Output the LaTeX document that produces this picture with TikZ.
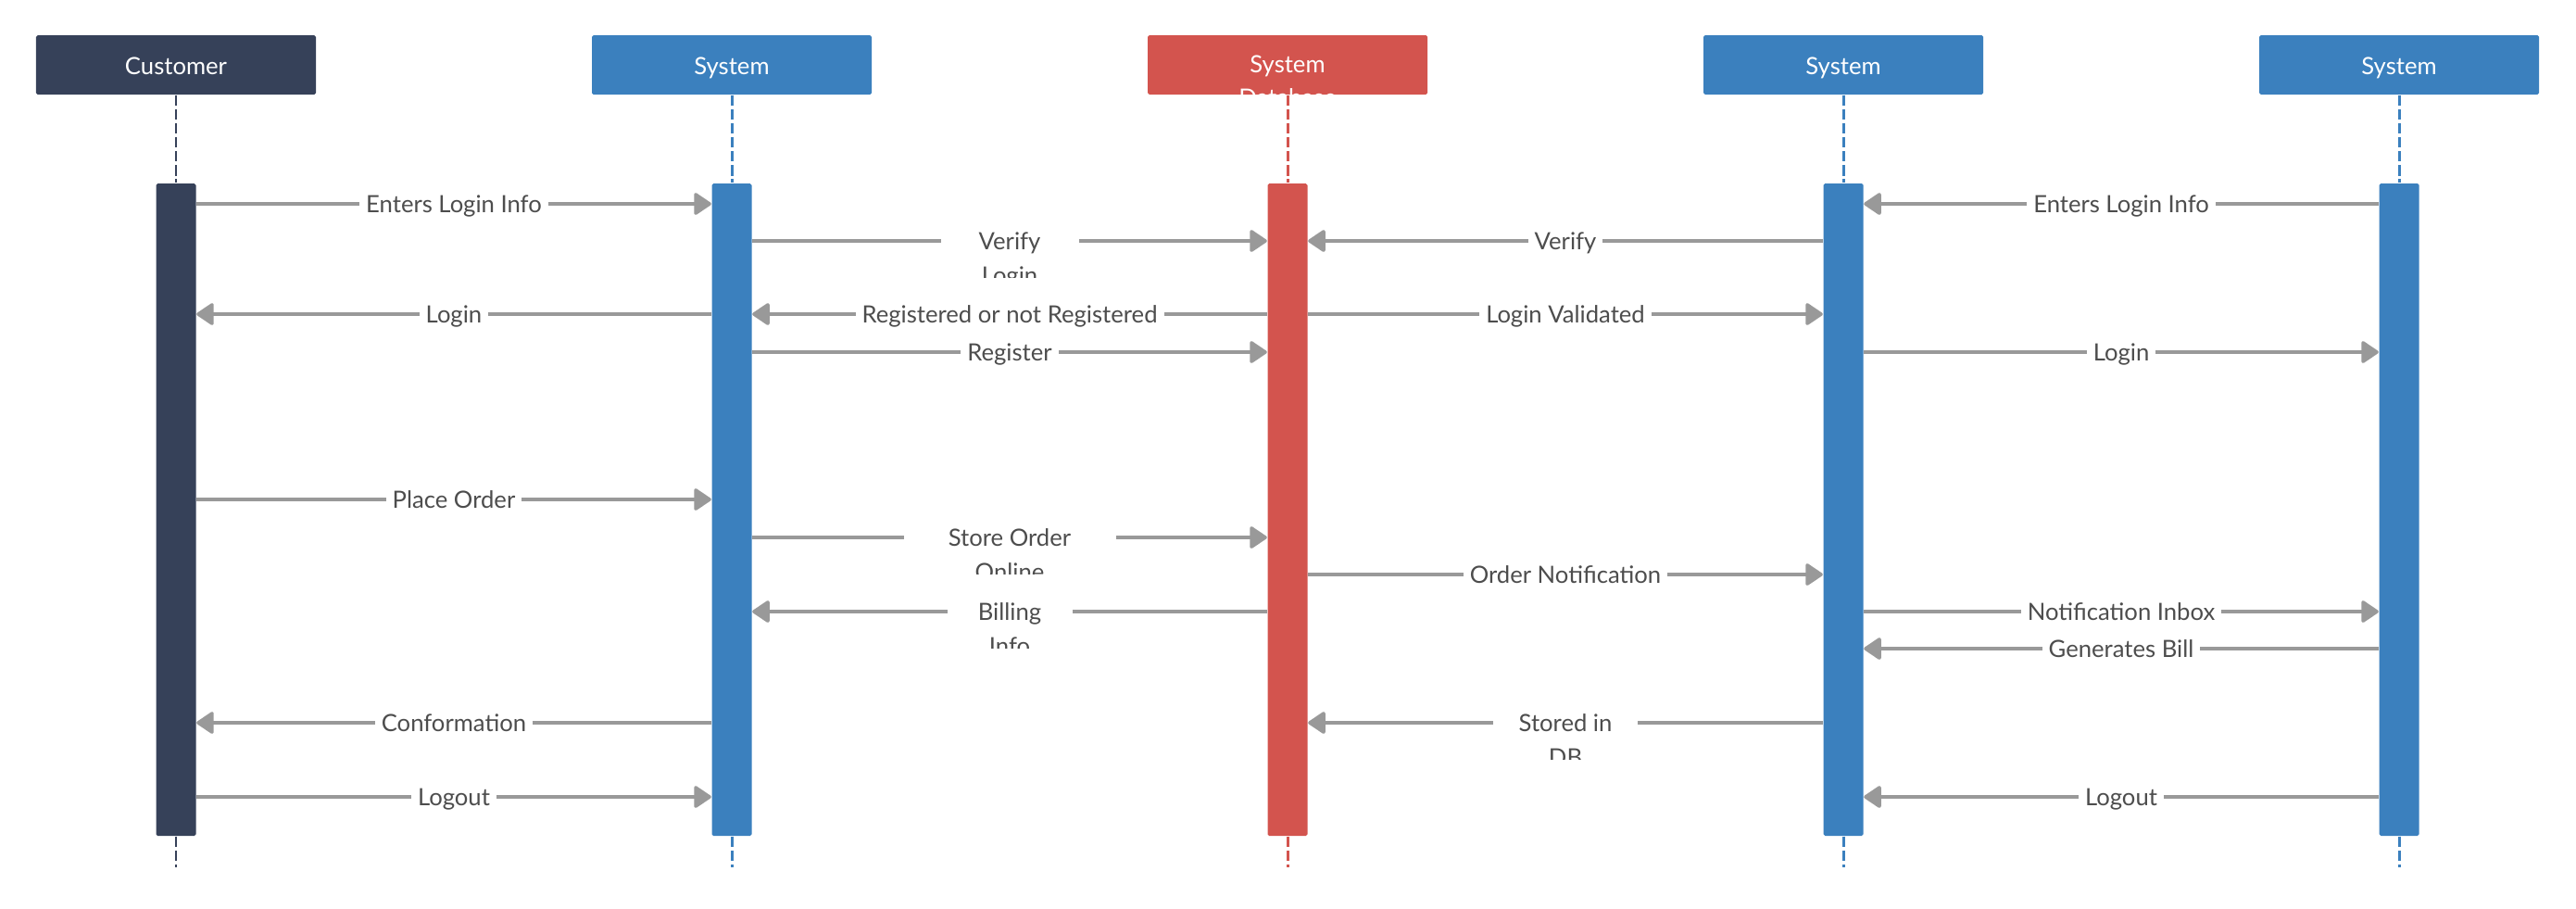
\documentclass[tikz,border=0pt]{standalone}
\usepackage{fontspec}
\setmainfont{Lato}
\usetikzlibrary{arrows.meta,positioning}
\definecolor{custnavy}{RGB}{54,65,89}
\definecolor{sysblue}{RGB}{59,128,190}
\definecolor{dbred}{RGB}{211,84,78}
\definecolor{msggray}{RGB}{153,153,153}
\definecolor{lbltext}{RGB}{77,77,77}
\begin{document}
\begin{tikzpicture}[
    head/.style={minimum width=3.02cm,minimum height=0.64cm,rounded corners=0.5pt,text=white,inner sep=0pt,text height=0.6em,text depth=0pt,font=\fontsize{7.3}{8}\selectfont},
    bar/.style={minimum width=0.43cm,minimum height=7.04cm,inner sep=0pt,rounded corners=0.5pt},
    life/.style={line width=0.85pt,dash pattern=on 3.2pt off 1.1pt},
    msg/.style={draw=msggray,line width=1pt,-{Triangle[length=2mm,width=2.6mm,round]}},
    lbl/.style={pos=.5,fill=white,text=lbltext,inner xsep=0.07cm,inner ysep=1.5pt,text height=0.55em,text depth=0pt,font=\fontsize{7.3}{8}\selectfont},
    more/.style={anchor=base,text=lbltext,inner sep=0pt,font=\fontsize{7.3}{8}\selectfont}]
    \useasboundingbox (0,0) rectangle (27.81,-9.80);
    \node[head,fill=custnavy] (cust) at (1.9,-0.70) {Customer};
    \node[head,fill=sysblue] (sys1) at (7.9,-0.70) {System};
    \node[head,fill=dbred] (db) at (13.9,-0.70) {};
    \node[head,fill=sysblue] (sys3) at (19.9,-0.70) {System};
    \node[head,fill=sysblue] (sys4) at (25.9,-0.70) {System};
    \node[head,fill=none] (dbname) at (13.9,-0.68) {System};
    \begin{scope}
        \clip (db.south west) rectangle (db.north east);
        \node[more,text=white,below=0.36 of dbname.base,anchor=base] (dbname2) {Database};
    \end{scope}
    \node[bar,fill=custnavy] (custbar) at (1.9,-5.50) {};
    \node[bar,fill=sysblue] (sys1bar) at (7.9,-5.50) {};
    \node[bar,fill=dbred] (dbbar) at (13.9,-5.50) {};
    \node[bar,fill=sysblue] (sys3bar) at (19.9,-5.50) {};
    \node[bar,fill=sysblue] (sys4bar) at (25.9,-5.50) {};
    \draw[life,draw=custnavy] (cust) -- (custbar) (custbar.south) -- ++(0,-0.33);
    \draw[life,draw=sysblue] (sys1) -- (sys1bar) (sys1bar.south) -- ++(0,-0.33);
    \draw[life,draw=dbred] (db) -- (dbbar) (dbbar.south) -- ++(0,-0.33);
    \draw[life,draw=sysblue] (sys3) -- (sys3bar) (sys3bar.south) -- ++(0,-0.33);
    \draw[life,draw=sysblue] (sys4) -- (sys4bar) (sys4bar.south) -- ++(0,-0.33);
    \draw[msg] (custbar.east |- 0,-2.20) -- (sys1bar.west |- 0,-2.20) node[lbl] (m1) {Enters Login Info};
    \draw[msg] (sys1bar.east |- 0,-2.60) -- (dbbar.west |- 0,-2.60) node[lbl,minimum width=1.49cm] (m2) {Verify};
    \draw[msg] (sys3bar.west |- 0,-2.60) -- (dbbar.east |- 0,-2.60) node[lbl] (m3) {Verify};
    \draw[msg] (sys4bar.west |- 0,-2.20) -- (sys3bar.east |- 0,-2.20) node[lbl] (m4) {Enters Login Info};
    \draw[msg] (sys1bar.west |- 0,-3.39) -- (custbar.east |- 0,-3.39) node[lbl] (m5) {Login};
    \draw[msg] (dbbar.west |- 0,-3.39) -- (sys1bar.east |- 0,-3.39) node[lbl] (m6) {Registered or not Registered};
    \draw[msg] (dbbar.east |- 0,-3.39) -- (sys3bar.west |- 0,-3.39) node[lbl] (m7) {Login Validated};
    \draw[msg] (sys1bar.east |- 0,-3.80) -- (dbbar.west |- 0,-3.80) node[lbl] (m8) {Register};
    \draw[msg] (sys3bar.east |- 0,-3.80) -- (sys4bar.west |- 0,-3.80) node[lbl] (m9) {Login};
    \draw[msg] (custbar.east |- 0,-5.39) -- (sys1bar.west |- 0,-5.39) node[lbl] (m10) {Place Order};
    \draw[msg] (sys1bar.east |- 0,-5.80) -- (dbbar.west |- 0,-5.80) node[lbl,minimum width=2.29cm] (m11) {Store Order};
    \draw[msg] (dbbar.east |- 0,-6.20) -- (sys3bar.west |- 0,-6.20) node[lbl] (m12) {Order Notification};
    \draw[msg] (dbbar.west |- 0,-6.60) -- (sys1bar.east |- 0,-6.60) node[lbl,minimum width=1.35cm] (m13) {Billing};
    \draw[msg] (sys3bar.east |- 0,-6.60) -- (sys4bar.west |- 0,-6.60) node[lbl] (m14) {Notification Inbox};
    \draw[msg] (sys4bar.west |- 0,-7.00) -- (sys3bar.east |- 0,-7.00) node[lbl] (m15) {Generates Bill};
    \draw[msg] (sys1bar.west |- 0,-7.80) -- (custbar.east |- 0,-7.80) node[lbl] (m16) {Conformation};
    \draw[msg] (sys3bar.west |- 0,-7.80) -- (dbbar.east |- 0,-7.80) node[lbl,minimum width=1.56cm] (m17) {Stored in};
    \draw[msg] (custbar.east |- 0,-8.60) -- (sys1bar.west |- 0,-8.60) node[lbl] (m18) {Logout};
    \draw[msg] (sys4bar.west |- 0,-8.60) -- (sys3bar.east |- 0,-8.60) node[lbl] (m19) {Logout};
    \begin{scope}
        \clip (8,-2.60) rectangle (20,-2.99);
        \node[more,below=0.37 of m2.base,anchor=base] (m2b) {Login};
    \end{scope}
    \begin{scope}
        \clip (8,-5.80) rectangle (20,-6.19);
        \node[more,below=0.37 of m11.base,anchor=base] (m11b) {Online};
    \end{scope}
    \begin{scope}
        \clip (8,-6.60) rectangle (20,-6.99);
        \node[more,below=0.37 of m13.base,anchor=base] (m13b) {Info};
    \end{scope}
    \begin{scope}
        \clip (8,-7.80) rectangle (20,-8.19);
        \node[more,below=0.37 of m17.base,anchor=base] (m17b) {DB};
    \end{scope}
\end{tikzpicture}
\end{document}
